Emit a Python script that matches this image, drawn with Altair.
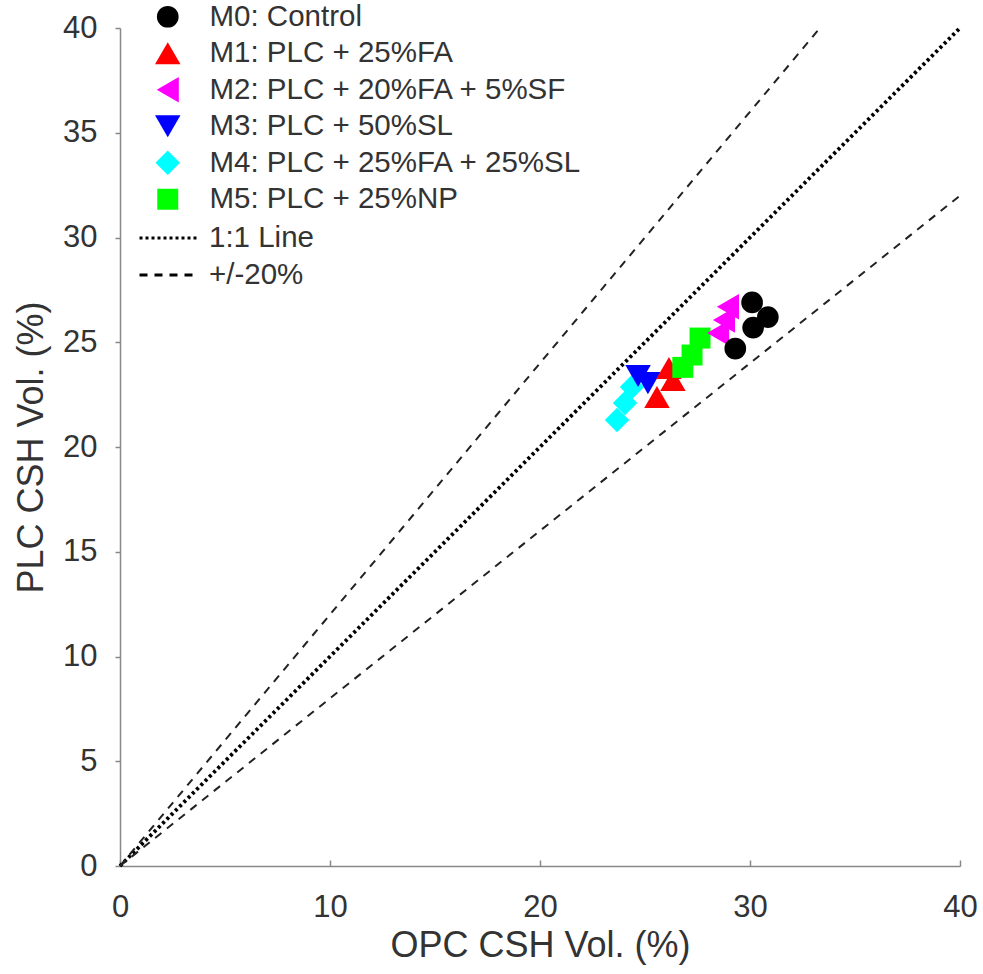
import altair as alt
import pandas as pd

# ---- data ----
mixes = ["M0: Control", "M1: PLC + 25%FA", "M2: PLC + 20%FA + 5%SF",
         "M3: PLC + 50%SL", "M4: PLC + 25%FA + 25%SL", "M5: PLC + 25%NP"]
colors = ["#000000", "#ff0000", "#ff00ff", "#0000ff", "#00ffff", "#00ff00"]
shapes = ["circle", "triangle-up", "triangle-left", "triangle-down", "diamond", "square"]
marker_sizes = [470, 650, 650, 650, 600, 440]

m0_x = [30.10, 30.85, 30.15, 29.30]
m0_y = [26.90, 26.20, 25.70, 24.70]
m1_x = [26.14, 26.33, 25.57]
m1_y = [23.77, 23.20, 22.39]
m2_x = [28.95, 28.76, 28.48]
m2_y = [26.70, 26.06, 25.44]
m3_x = [24.67, 25.14]
m3_y = [23.39, 23.05]
m4_x = [24.38, 24.05, 23.67]
m4_y = [22.86, 22.10, 21.29]
m5_x = [27.62, 27.24, 26.80]
m5_y = [25.20, 24.39, 23.80]

# reference lines (end points)
one_x = [0, 40]
one_y = [0, 40]
upper_x = [0, 33.33]
upper_y = [0, 40]
lower_x = [0, 40]
lower_y = [0, 32]

line_styles = ["1:1 Line", "+/-20%"]
x_ticks = [0, 10, 20, 30, 40]
y_ticks = [0, 5, 10, 15, 20, 25, 30, 35, 40]

# ---- tables ----
series = [(m4_x, m4_y, mixes[4]), (m3_x, m3_y, mixes[3]),
          (m1_x, m1_y, mixes[1]), (m5_x, m5_y, mixes[5]),
          (m2_x, m2_y, mixes[2]), (m0_x, m0_y, mixes[0])]
rows = []
for xs, ys, name in series:
    for xv, yv in zip(xs, ys):
        rows.append({"mix": name, "x": xv, "y": yv})
pts = pd.DataFrame(rows)

dotted = pd.DataFrame({"x": one_x, "y": one_y, "style": line_styles[0], "line": "one"})
dashed = pd.concat([
    pd.DataFrame({"x": upper_x, "y": upper_y, "style": line_styles[1], "line": "upper"}),
    pd.DataFrame({"x": lower_x, "y": lower_y, "style": line_styles[1], "line": "lower"}),
])

FONT = "Liberation Sans"
W, H = 840, 838

xscale = alt.Scale(domain=[0, 40], nice=False)
yscale = alt.Scale(domain=[0, 40], nice=False)
dash_scale = alt.Scale(domain=line_styles, range=[[3, 3], [8, 7]])

dash_legend = alt.Legend(
    orient="none", legendX=18, legendY=195, title=None,
    symbolType="stroke", symbolSize=3600, symbolStrokeWidth=3,
    symbolStrokeColor="#000000", labelFontSize=29.5, labelFont=FONT,
    labelColor="#333333", labelOffset=8, rowPadding=7, padding=0,
    labelLimit=600, clipHeight=30,
)

x_main = alt.X("x:Q", scale=xscale, title="OPC CSH Vol. (%)",
               axis=alt.Axis(orient="bottom", values=x_ticks, ticks=False,
                             labelFlush=False, labelPadding=26, titlePadding=6))
x_inner = alt.X("x:Q", scale=xscale, title=None,
                axis=alt.Axis(orient="top", offset=-H, values=x_ticks,
                              labels=False, domain=False, ticks=True,
                              tickSize=6, grid=False))
y_main = alt.Y("y:Q", scale=yscale, title="PLC CSH Vol. (%)",
               axis=alt.Axis(values=y_ticks, tickSize=5, labelPadding=18,
                             labelFlush=False, titlePadding=12))

l_dot = alt.Chart(dotted).mark_line(color="#000000", strokeWidth=3.8).encode(
    x=x_inner, y=y_main,
    strokeDash=alt.StrokeDash("style:N", scale=dash_scale, legend=dash_legend),
    detail="line:N",
)
l_dash = alt.Chart(dashed).mark_line(color="#222222", strokeWidth=2).encode(
    x=x_inner, y=y_main,
    strokeDash=alt.StrokeDash("style:N", scale=dash_scale, legend=dash_legend),
    detail="line:N",
)
lines = alt.layer(l_dot, l_dash)

pt_legend = alt.Legend(
    orient="none", legendX=33, legendY=-26, title=None,
    symbolStrokeWidth=0, labelFontSize=29.5, labelFont=FONT,
    labelColor="#333333", labelOffset=27, rowPadding=5.5, padding=0,
    labelLimit=600,
)
points = alt.Chart(pts).mark_point(filled=True, opacity=1).encode(
    x=x_main, y=y_main,
    color=alt.Color("mix:N", scale=alt.Scale(domain=mixes, range=colors), legend=pt_legend),
    shape=alt.Shape("mix:N", scale=alt.Scale(domain=mixes, range=shapes), legend=pt_legend),
    size=alt.Size("mix:N", scale=alt.Scale(type="ordinal", domain=mixes, range=marker_sizes),
                  legend=pt_legend),
)

chart = alt.layer(lines, points).resolve_axis(x="independent").properties(
    width=W, height=H,
    autosize=alt.AutoSizeParams(type="none"),
    padding={"left": 120, "top": 28, "right": 23, "bottom": 108},
).configure_view(stroke=None).configure_axis(
    grid=False, labelFont=FONT, titleFont=FONT, labelFontSize=31,
    titleFontSize=36, labelColor="#333333", titleColor="#333333",
    titleFontWeight="normal", domainColor="#888888", tickColor="#888888",
    domainWidth=1.5, tickWidth=1.5,
)

chart.save("out.html", embed_options={"renderer": "svg", "actions": False})
